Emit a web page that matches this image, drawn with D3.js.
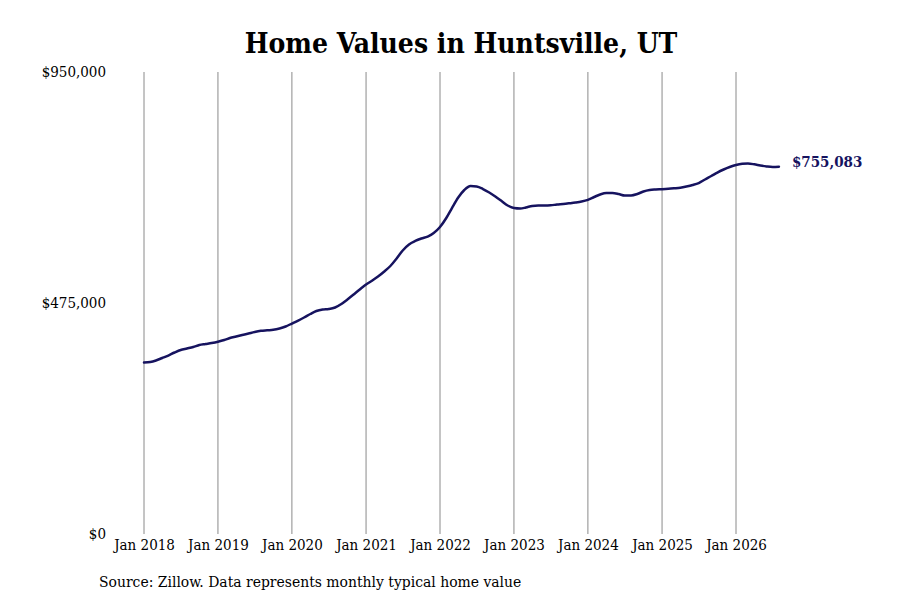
<!DOCTYPE html>
<html>
<head>
<meta charset="utf-8">
<script src="https://cdn.jsdelivr.net/npm/d3@7/dist/d3.min.js"></script>
<style>
  html, body { margin: 0; padding: 0; background: #fff; }
  svg { display: block; }
  text { font-family: "DejaVu Serif Condensed", "DejaVu Serif", serif; font-stretch: condensed; }
</style>
</head>
<body>
<svg id="chart" width="900" height="600"></svg>
<script>
// ---- Data ----
const title = "Home Values in Huntsville, UT";
const sourceNote = "Source: Zillow. Data represents monthly typical home value";
const startYear = 2018;
const startMonth = 0; // January
const values = [
  352600, 353700, 356800, 361900, 367000, 373200, 378400, 381400, 384500, 388600, 390700, 392700,
  395400, 398900, 403000, 406100, 409200, 412300, 415400, 417800, 418900, 419900, 422600, 426700,
  432800, 439000, 445200, 452400, 458500, 461600, 462700, 465700, 472900, 482200, 492500, 502800,
  513000, 521300, 529500, 539800, 551100, 566500, 583000, 595300, 602500, 607600, 611700, 618900,
  631300, 649800, 670300, 691900, 707400, 715600, 714600, 709400, 702200, 694000, 684700, 675500,
  670300, 669300, 671400, 674500, 675500, 675500, 675900, 677500, 678600, 680000, 681600, 683700,
  687200, 693000, 698100, 701200, 701200, 699100, 696000, 696000, 699100, 704300, 707400, 708400,
  709000, 709800, 710800, 712100, 714500, 717600, 721700, 729000, 736100, 743300, 749500, 754600,
  758800, 761200, 761800, 760200, 757700, 755700, 754600, 755083
];
const xTickYears = [2018, 2019, 2020, 2021, 2022, 2023, 2024, 2025, 2026];
const yTicks = [0, 475000, 950000];

const data = values.map((v, i) => ({ date: new Date(startYear, startMonth + i, 1), value: v }));

// ---- Layout ----
const svg = d3.select("#chart");
const x = d3.scaleTime()
  .domain([new Date(2018, 0, 1), new Date(2026, 0, 1)])
  .range([144, 736]);
const y = d3.scaleLinear().domain([0, 950000]).range([534, 72]);

// Title
svg.append("text")
  .attr("x", 461).attr("y", 53)
  .attr("text-anchor", "middle")
  .attr("font-size", 28).attr("font-weight", "bold")
  .attr("fill", "#000")
  .text(title);

// Vertical gridlines
const xTickDates = xTickYears.map(yr => new Date(yr, 0, 1));
svg.append("g").selectAll("line").data(xTickDates).join("line")
  .attr("x1", d => x(d)).attr("x2", d => x(d))
  .attr("y1", y(950000)).attr("y2", y(0))
  .attr("stroke", "#8a8a8a").attr("stroke-width", 1);

// X axis labels
const xAxis = d3.axisBottom(x).tickValues(xTickDates)
  .tickFormat(d3.timeFormat("Jan %Y")).tickSize(0).tickPadding(5);
const gx = svg.append("g").attr("transform", `translate(0,${y(0)})`).call(xAxis);
gx.select(".domain").remove();
gx.selectAll("text").attr("font-family", null).attr("font-size", 15).attr("fill", "#000");

// Y axis labels
const yAxis = d3.axisLeft(y).tickValues(yTicks)
  .tickFormat(d => "$" + d3.format(",")(d)).tickSize(0).tickPadding(0);
const gy = svg.append("g").attr("transform", "translate(106,0)").call(yAxis);
gy.select(".domain").remove();
gy.selectAll("text").attr("font-family", null).attr("font-size", 15).attr("fill", "#000");

// Line
const line = d3.line()
  .x(d => x(d.date)).y(d => y(d.value))
  .curve(d3.curveMonotoneX);
svg.append("path").datum(data)
  .attr("fill", "none")
  .attr("stroke", "#16135f")
  .attr("stroke-width", 2.5)
  .attr("stroke-linejoin", "round")
  .attr("stroke-linecap", "round")
  .attr("d", line);

// End label
const last = data[data.length - 1];
svg.append("text")
  .attr("x", x(last.date) + 13).attr("y", y(last.value))
  .attr("font-size", 15).attr("font-weight", "bold")
  .attr("fill", "#16135f")
  .text("$" + d3.format(",")(last.value));

// Source
svg.append("text")
  .attr("x", 99).attr("y", 587)
  .attr("font-size", 15.5).attr("fill", "#000")
  .text(sourceNote);
</script>
</body>
</html>
